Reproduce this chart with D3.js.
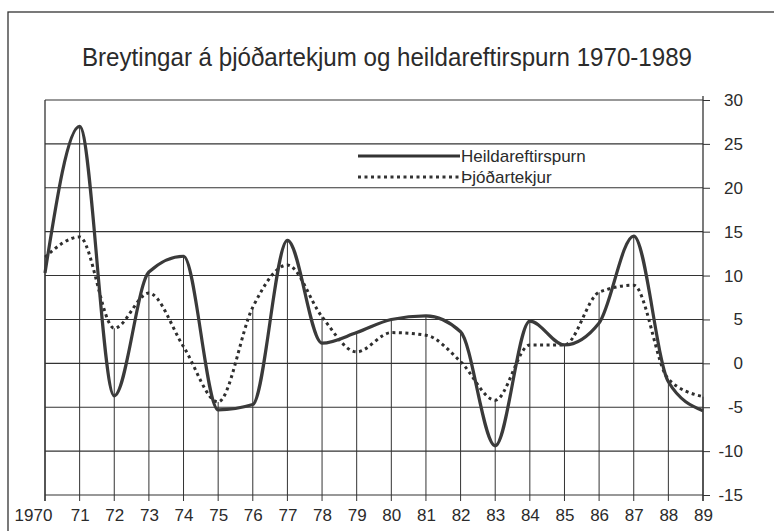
<!DOCTYPE html>
<html>
<head>
<meta charset="utf-8">
<script src="https://cdn.jsdelivr.net/npm/d3@7"></script>
<style>
  body { margin: 0; background: #fff; }
  text { font-family: "Liberation Sans", Arial, sans-serif; fill: #2b2b2b; }
</style>
</head>
<body>
<svg width="774" height="531"></svg>
<script>
// data
var years = [1970, 1971, 1972, 1973, 1974, 1975, 1976, 1977, 1978, 1979,
             1980, 1981, 1982, 1983, 1984, 1985, 1986, 1987, 1988, 1989];
var yearLabels = ["1970", "71", "72", "73", "74", "75", "76", "77", "78", "79",
                  "80", "81", "82", "83", "84", "85", "86", "87", "88", "89"];
var heildareftirspurn = [10.3, 27.0, -3.7, 10.4, 12.2, -5.3, -4.7, 14.0, 2.3, 3.5,
                         5.0, 5.4, 3.6, -9.4, 4.8, 2.1, 4.6, 14.5, -2.1, -5.4];
var thjodartekjur = [12.1, 14.4, 4.0, 8.0, 1.9, -4.4, 6.4, 11.2, 5.3, 1.3,
                     3.5, 3.2, 0.2, -4.2, 2.1, 2.1, 8.1, 8.9, -1.8, -3.8];
var yTicks = [30, 25, 20, 15, 10, 5, 0, -5, -10, -15];

var svg = d3.select("svg");
// note: "top" is a reserved window global, so use plot* names
var plotLeft = 45, plotRight = 703, plotTop = 100, plotBottom = 495;
var ink = "#333";

var x = d3.scaleLinear().domain([1970, 1989]).range([plotLeft, plotRight]);
var y = d3.scaleLinear().domain([-15, 30]).range([plotBottom, plotTop]);

// outer frame
svg.append("rect")
  .attr("x", 8).attr("y", 12)
  .attr("width", 800).attr("height", 600)
  .attr("fill", "none")
  .attr("stroke", ink)
  .attr("stroke-width", 1.3);

// title
svg.append("text")
  .attr("x", 82).attr("y", 66)
  .attr("textLength", 610)
  .attr("lengthAdjust", "spacingAndGlyphs")
  .style("font-size", "25px")
  .text("Breytingar á þjóðartekjum og heildareftirspurn 1970-1989");

// right axis ticks + labels
var yAxis = d3.axisRight(y)
  .tickValues(yTicks)
  .tickSize(7)
  .tickFormat(d => d);
var ga = svg.append("g")
  .attr("transform", `translate(${plotRight},0)`)
  .call(yAxis);
ga.select(".domain").remove();
ga.selectAll(".tick line").attr("stroke", ink);
ga.selectAll(".tick text")
  .attr("x", 40)
  .attr("text-anchor", "end")
  .style("font-size", "17px")
  .style("font-family", "Liberation Sans, Arial, sans-serif")
  .attr("fill", "#2b2b2b");

// horizontal grid
svg.append("g").selectAll("line")
  .data(yTicks)
  .enter()
  .append("line")
  .attr("x1", plotLeft).attr("x2", plotRight)
  .attr("y1", d => y(d)).attr("y2", d => y(d))
  .attr("stroke", ink)
  .attr("stroke-width", 1.1);

// frame verticals
svg.append("line")
  .attr("x1", plotLeft).attr("x2", plotLeft)
  .attr("y1", y(30)).attr("y2", plotBottom + 6)
  .attr("stroke", ink).attr("stroke-width", 1.3);
svg.append("line")
  .attr("x1", plotRight).attr("x2", plotRight)
  .attr("y1", y(30) - 4).attr("y2", plotBottom + 6)
  .attr("stroke", ink).attr("stroke-width", 1.3);

// drop lines up to the higher of the two series
svg.append("g").selectAll("line")
  .data(years)
  .enter()
  .append("line")
  .attr("x1", d => x(d)).attr("x2", d => x(d))
  .attr("y1", plotBottom + 6)
  .attr("y2", (d, i) => y(Math.max(heildareftirspurn[i], thjodartekjur[i])))
  .attr("stroke", ink)
  .attr("stroke-width", 1);

// year labels
var xAxis = d3.axisBottom(x)
  .tickValues(years)
  .tickSize(0)
  .tickFormat((d, i) => yearLabels[i]);
var gx = svg.append("g")
  .attr("transform", `translate(0,${plotBottom})`)
  .call(xAxis);
gx.select(".domain").remove();
gx.selectAll(".tick text")
  .attr("y", 14)
  .attr("dx", (d, i) => i == 0 ? -12 : 0) // 1970 sits left of its tick
  .style("font-size", "17px")
  .style("font-family", "Liberation Sans, Arial, sans-serif")
  .attr("fill", "#2b2b2b");

// series
var line = d3.line()
  .x((d, i) => x(years[i]))
  .y(d => y(d))
  .curve(d3.curveMonotoneX);

svg.append("path")
  .attr("d", line(thjodartekjur))
  .attr("fill", "none")
  .attr("stroke", "#2e2e2e")
  .attr("stroke-width", 3)
  .attr("stroke-dasharray", "3,3.5");

svg.append("path")
  .attr("d", line(heildareftirspurn))
  .attr("fill", "none")
  .attr("stroke", "#3a3a3a")
  .attr("stroke-width", 3.2)
  .attr("stroke-linejoin", "round");

// legend
var legend = [
  { name: "Heildareftirspurn", dash: null, yy: 156 },
  { name: "Þjóðartekjur", dash: "3,3.5", yy: 177 }
];
legend.forEach(item => {
  svg.append("line")
    .attr("x1", 358).attr("x2", 460)
    .attr("y1", item.yy).attr("y2", item.yy)
    .attr("stroke", "#333")
    .attr("stroke-width", 3)
    .attr("stroke-dasharray", item.dash);
  svg.append("text")
    .attr("x", 461).attr("y", item.yy + 6)
    .style("font-size", "17px")
    .text(item.name);
});
</script>
</body>
</html>
